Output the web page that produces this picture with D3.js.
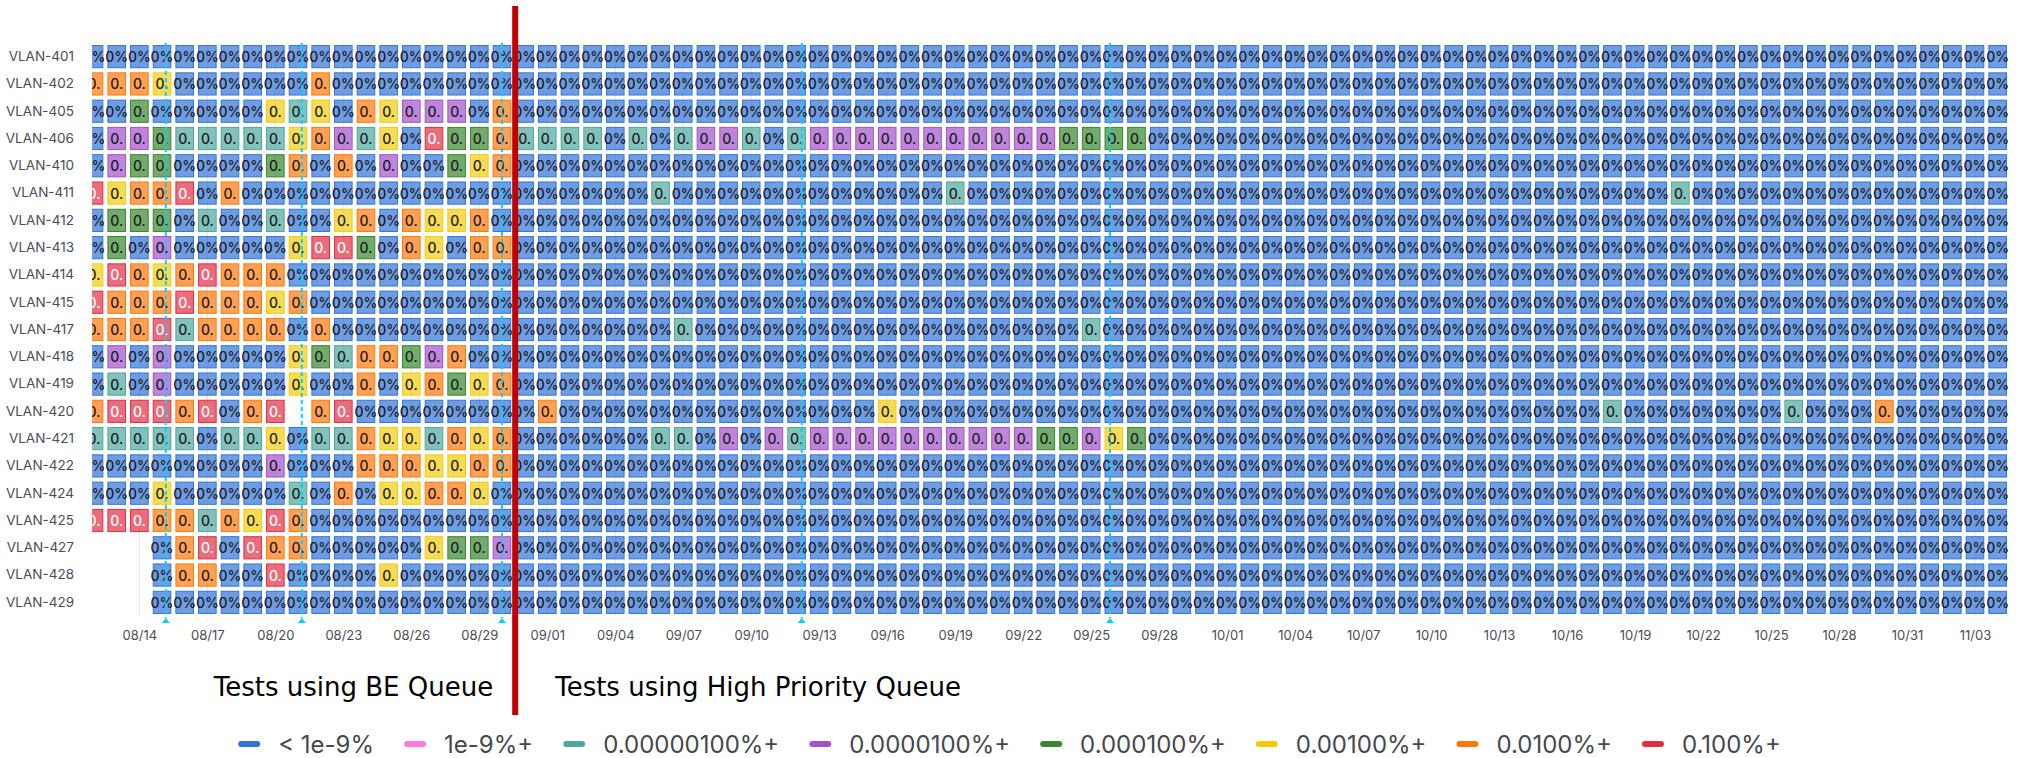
<!DOCTYPE html>
<html><head><meta charset="utf-8">
<script src="https://cdn.jsdelivr.net/npm/d3@7"></script>
<style>
html,body{margin:0;padding:0;background:#fff;}
svg{display:block;}
</style></head>
<body><svg id="chart" width="2019" height="758"></svg>
<script>
// ---------------- DATA ----------------
const vlans = ["VLAN-401","VLAN-402","VLAN-405","VLAN-406","VLAN-410","VLAN-411","VLAN-412","VLAN-413","VLAN-414","VLAN-415","VLAN-417","VLAN-418","VLAN-419","VLAN-420","VLAN-421","VLAN-422","VLAN-424","VLAN-425","VLAN-427","VLAN-428","VLAN-429"];
const firstDay = "2023-08-12T00:00";
const timeRange = ["2023-08-11T21:50", "2023-11-04T12:00"];
const tickStart = "2023-08-14T00:00";
const tickStepDays = 3;
// one code per day (85 days, groups of 10); B <1e-9, T 1e-6+, P 1e-5+, G 1e-4+, Y 1e-3+, O 1e-2+, R 1e-1+, - no data
const cellCodes = [
"BBBBBBBBBB|BBBBBBBBBB|BBBBBBBBBB|BBBBBBBBBB|BBBBBBBBBB|BBBBBBBBBB|BBBBBBBBBB|BBBBBBBBBB|BBBBB",
"OOOYBBBBBB|OBBBBBBBBB|BBBBBBBBBB|BBBBBBBBBB|BBBBBBBBBB|BBBBBBBBBB|BBBBBBBBBB|BBBBBBBBBB|BBBBB",
"BBGBBBBBYT|YBOYPPPBOB|BBBBBBBBBB|BBBBBBBBBB|BBBBBBBBBB|BBBBBBBBBB|BBBBBBBBBB|BBBBBBBBBB|BBBBB",
"BPPGTTTTTY|OPTYBRGGOT|TTTBTBTPPT|BTPPPPPPPP|PPPGGGGBBB|BBBBBBBBBB|BBBBBBBBBB|BBBBBBBBBB|BBBBB",
"BPGGBBBBGO|BOBPBBGYOB|BBBBBBBBBB|BBBBBBBBBB|BBBBBBBBBB|BBBBBBBBBB|BBBBBBBBBB|BBBBBBBBBB|BBBBB",
"RYOORBOBBB|BBBBBBBBBB|BBBBBTBBBB|BBBBBBBBTB|BBBBBBBBBB|BBBBBBBBBB|BBBBBBBBBB|TBBBBBBBBB|BBBBB",
"BGGGBTBBTB|BYOBOYYOBB|BBBBBBBBBB|BBBBBBBBBB|BBBBBBBBBB|BBBBBBBBBB|BBBBBBBBBB|BBBBBBBBBB|BBBBB",
"BGBPBBBBBY|RRGBOYBOOB|BBBBBBBBBB|BBBBBBBBBB|BBBBBBBBBB|BBBBBBBBBB|BBBBBBBBBB|BBBBBBBBBB|BBBBB",
"YROYOROOOB|BBBBBBBBBB|BBBBBBBBBB|BBBBBBBBBB|BBBBBBBBBB|BBBBBBBBBB|BBBBBBBBBB|BBBBBBBBBB|BBBBB",
"ROOOROOOYO|BBBBBBBBBB|BBBBBBBBBB|BBBBBBBBBB|BBBBBBBBBB|BBBBBBBBBB|BBBBBBBBBB|BBBBBBBBBB|BBBBB",
"OOORTOOOOB|OBBBBBBBBB|BBBBBBTBBB|BBBBBBBBBB|BBBBTBBBBB|BBBBBBBBBB|BBBBBBBBBB|BBBBBBBBBB|BBBBB",
"BPBPBBBBBY|GTOOGPOBBB|BBBBBBBBBB|BBBBBBBBBB|BBBBBBBBBB|BBBBBBBBBB|BBBBBBBBBB|BBBBBBBBBB|BBBBB",
"BTBPBBBBBY|BBOBYOGYOB|BBBBBBBBBB|BBBBBBBBBB|BBBBBBBBBB|BBBBBBBBBB|BBBBBBBBBB|BBBBBBBBBB|BBBBB",
"ORRRORBOR-|ORBBBBBBBB|OBBBBBBBBB|BBBBBYBBBB|BBBBBBBBBB|BBBBBBBBBB|BBBBBBBTBB|BBBBBTBBBO|BBBBB",
"TTTTTBTTYB|TTOYYTOYOB|BBBBBTTBPB|PTPPPPPPPP|PPGGPYGBBB|BBBBBBBBBB|BBBBBBBBBB|BBBBBBBBBB|BBBBB",
"BBBBBBBBPB|BBOOOYYOOB|BBBBBBBBBB|BBBBBBBBBB|BBBBBBBBBB|BBBBBBBBBB|BBBBBBBBBB|BBBBBBBBBB|BBBBB",
"BBBYBBBBBT|BOBYYOOYBB|BBBBBBBBBB|BBBBBBBBBB|BBBBBBBBBB|BBBBBBBBBB|BBBBBBBBBB|BBBBBBBBBB|BBBBB",
"RRROOTOYRO|BBBBBBBBBB|BBBBBBBBBB|BBBBBBBBBB|BBBBBBBBBB|BBBBBBBBBB|BBBBBBBBBB|BBBBBBBBBB|BBBBB",
"---BORBROO|BBBBBYGGPB|BBBBBBBBBB|BBBBBBBBBB|BBBBBBBBBB|BBBBBBBBBB|BBBBBBBBBB|BBBBBBBBBB|BBBBB",
"---BOOBBRB|BBBYBBBBBB|BBBBBBBBBB|BBBBBBBBBB|BBBBBBBBBB|BBBBBBBBBB|BBBBBBBBBB|BBBBBBBBBB|BBBBB",
"---BBBBBBB|BBBBBBBBBB|BBBBBBBBBB|BBBBBBBBBB|BBBBBBBBBB|BBBBBBBBBB|BBBBBBBBBB|BBBBBBBBBB|BBBBB"
];
// estimated loss value (%) for each code
const codeValue = {B: 0, T: 3e-6, P: 3e-5, G: 3e-4, Y: 3e-3, O: 3e-2, R: 0.3};
const thresholds = [1e-9, 1e-6, 1e-5, 1e-4, 1e-3, 1e-2, 1e-1];
const levelLabels = ["< 1e-9%","1e-9%+","0.00000100%+","0.0000100%+","0.000100%+","0.00100%+","0.0100%+","0.100%+"];
const levelColors = ["#3274D9","#FF78DC","#4FA69E","#A352CC","#37872D","#F2CC0C","#FF780A","#E02F44"];
const annotationTimes = ["2023-08-15T04:00","2023-08-21T04:00","2023-08-30T00:00","2023-09-12T05:30","2023-09-25T20:00"];
const queueSwitch = "2023-08-30T14:00";
const leftNote = "Tests using BE Queue";
const rightNote = "Tests using High Priority Queue";

// ---------------- CHART ----------------
const W = 2019, H = 758;
const plot = {left: 92, right: 2009, top: 43, bottom: 616};
const parse = d3.timeParse("%Y-%m-%dT%H:%M");
const svg = d3.select("#chart");

const x = d3.scaleTime().domain(timeRange.map(parse)).range([plot.left, plot.right]);
const y = d3.scaleBand().domain(vlans).range([plot.top, plot.bottom]).paddingInner(0.15).paddingOuter(0.075);
const color = d3.scaleThreshold().domain(thresholds).range(levelColors);

svg.append("defs").append("clipPath").attr("id","plotClip")
  .append("rect").attr("x", plot.left).attr("y", 0).attr("width", plot.right - plot.left).attr("height", H);

const day0 = parse(firstDay);
const cells = [];
cellCodes.forEach((row, r) => {
  const codes = row.replace(/\|/g, "");
  codes.split("").forEach((c, i) => {
    if (c === "-") return;
    cells.push({vlan: vlans[r], day: d3.timeDay.offset(day0, i), value: codeValue[c]});
  });
});

// grid
const ticks = d3.timeDay.range(parse(tickStart), x.domain()[1], tickStepDays);
svg.append("g").selectAll("line").data(ticks).join("line")
  .attr("x1", d => x(d)).attr("x2", d => x(d))
  .attr("y1", plot.top).attr("y2", plot.bottom)
  .attr("stroke", "#e6e6e6").attr("stroke-width", 1);

// cells
const gCells = svg.append("g").attr("clip-path", "url(#plotClip)");
const cellBox = d => {
  const a = x(d3.timeHour.offset(d.day, -12)), b = x(d3.timeHour.offset(d.day, 12));
  const w = b - a;
  return {x: a + w * 0.09, w: w * 0.82};
};
gCells.selectAll("rect").data(cells).join("rect")
  .attr("x", d => cellBox(d).x + 0.5)
  .attr("y", d => y(d.vlan) + 0.5)
  .attr("width", d => cellBox(d).w - 1)
  .attr("height", y.bandwidth() - 1)
  .attr("fill", d => color(d.value)).attr("fill-opacity", 0.7)
  .attr("stroke", d => color(d.value)).attr("stroke-width", 1);

const cellText = d => {
  const full = d.value === 0 ? "0%" : d3.format(".6f")(d.value) + "%";
  return full.length > 2 ? full.slice(0, 2) : full;
};
gCells.selectAll("text").data(cells).join("text")
  .attr("x", d => x(d.day))
  .attr("y", d => y(d.vlan) + y.bandwidth() / 2)
  .attr("text-anchor", "middle").attr("dominant-baseline", "central")
  .attr("font-family", "Inter, 'Noto Sans', sans-serif").attr("font-size", 14).attr("font-weight", 500)
  .attr("fill", d => d.value >= thresholds[6] ? "#ffffff" : "#1b1b1f")
  .text(cellText);

// axes
const yAxis = svg.append("g").attr("transform", `translate(${plot.left},0)`)
  .call(d3.axisLeft(y).tickSize(0).tickPadding(18));
yAxis.select(".domain").remove();
yAxis.selectAll("text").attr("font-family", "Inter, sans-serif").attr("font-size", 13.5).attr("fill", "#4a4d52");

const xAxis = svg.append("g").attr("transform", `translate(0,${plot.bottom})`)
  .call(d3.axisBottom(x).tickValues(ticks).tickFormat(d3.timeFormat("%m/%d")).tickSize(0).tickPadding(15));
xAxis.select(".domain").remove();
xAxis.selectAll("text").attr("font-family", "Inter, sans-serif").attr("font-size", 13).attr("fill", "#4a4d52");

// annotations
const ann = annotationTimes.map(parse);
svg.append("g").selectAll("line").data(ann).join("line")
  .attr("x1", d => x(d)).attr("x2", d => x(d))
  .attr("y1", plot.top).attr("y2", plot.bottom + 2)
  .attr("stroke", "rgb(0,211,255)").attr("stroke-width", 2).attr("stroke-dasharray", "4,3");
svg.append("g").selectAll("path").data(ann).join("path")
  .attr("d", d => `M${x(d) - 4},${plot.bottom + 7}L${x(d)},${plot.bottom + 2}L${x(d) + 4},${plot.bottom + 7}Z`)
  .attr("fill", "rgb(0,211,255)");

// queue switch line
const qx = x(parse(queueSwitch));
svg.append("line").attr("x1", qx).attr("x2", qx).attr("y1", 6).attr("y2", 715)
  .attr("stroke", "#c00000").attr("stroke-width", 6);

svg.append("text").attr("x", qx - 22).attr("y", 696).attr("text-anchor", "end")
  .attr("font-family", "'DejaVu Sans', Verdana, sans-serif").attr("font-size", 26).attr("fill", "#000")
  .text(leftNote);
svg.append("text").attr("x", qx + 40).attr("y", 696).attr("text-anchor", "start")
  .attr("font-family", "'DejaVu Sans', Verdana, sans-serif").attr("font-size", 26).attr("fill", "#000")
  .text(rightNote);

// legend
const legend = svg.append("g");
let cx = 0;
const swW = 22, swGap = 18, itemGap = 30;
levelLabels.forEach((lab, i) => {
  const g = legend.append("g").attr("transform", `translate(${cx},0)`);
  g.append("rect").attr("x", 0).attr("y", -3).attr("width", swW).attr("height", 6).attr("rx", 3)
    .attr("fill", levelColors[i]);
  const t = g.append("text").attr("x", swW + swGap).attr("y", 0).attr("dominant-baseline", "central")
    .attr("font-family", "Inter, sans-serif").attr("font-size", 24).attr("fill", "#45484d").text(lab);
  cx += swW + swGap + t.node().getComputedTextLength() + itemGap;
});
const lw = cx - itemGap;
legend.attr("transform", `translate(${(W - lw) / 2},744)`);
</script>
</body></html>
